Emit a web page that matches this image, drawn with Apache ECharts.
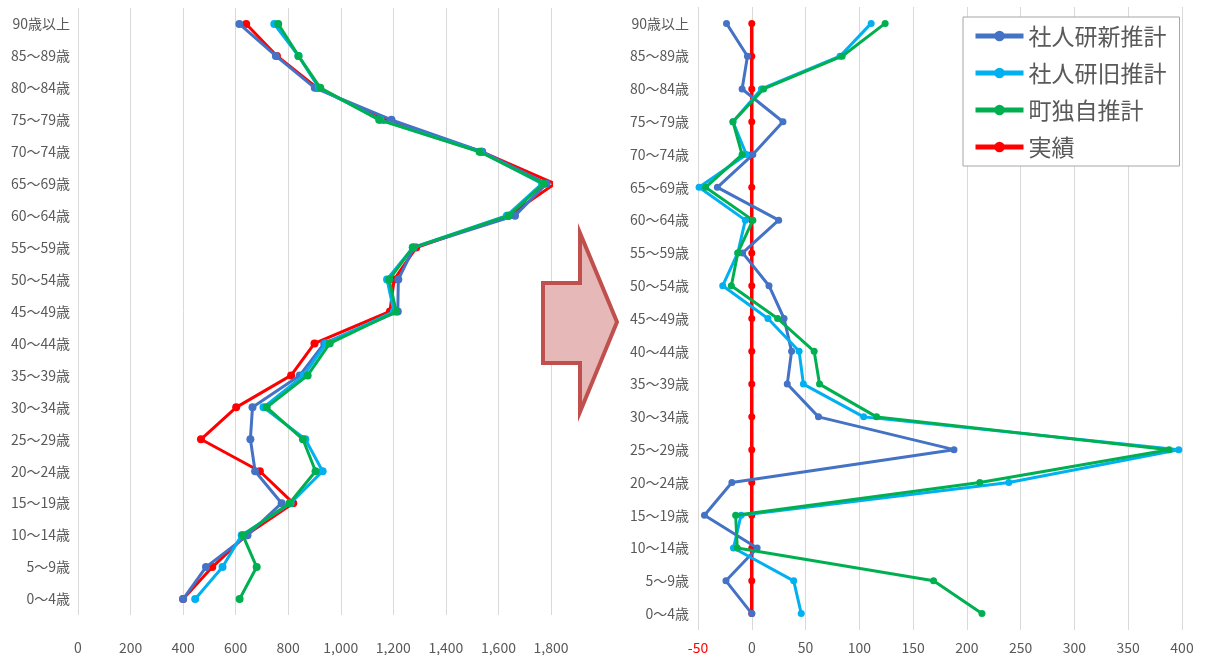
<!DOCTYPE html>
<html>
<head>
<meta charset="utf-8">
<script src="https://cdn.jsdelivr.net/npm/echarts@6/dist/echarts.min.js"></script>
<style>
    html, body { margin: 0; padding: 0; background: #fff; }
    #chart { width: 1210px; height: 655px; }
</style>
</head>
<body>
<div id="chart"></div>
<script>
    // 年齢階級（下から上へ）
    var categories = ['0～4歳', '5～9歳', '10～14歳', '15～19歳', '20～24歳', '25～29歳', '30～34歳',
        '35～39歳', '40～44歳', '45～49歳', '50～54歳', '55～59歳', '60～64歳', '65～69歳',
        '70～74歳', '75～79歳', '80～84歳', '85～89歳', '90歳以上']

    var seriesNames = ['社人研新推計', '社人研旧推計', '町独自推計', '実績']
    var colors = ['#4472C4', '#00B0F0', '#00B050', '#FF0000']

    // 左：人数
    var leftNew = [400, 487, 645, 775, 674, 656, 664, 844, 937, 1217, 1219, 1278, 1663, 1783, 1538, 1193, 901, 753, 614]
    var leftOld = [446, 550, 623, 809, 931, 865, 706, 859, 944, 1202, 1176, 1274, 1632, 1766, 1532, 1150, 917, 839, 747]
    var leftTown = [615, 680, 627, 805, 904, 856, 718, 874, 958, 1211, 1184, 1274, 1639, 1772, 1528, 1146, 922, 839, 762]
    var leftActual = [400, 511, 640, 819, 692, 468, 602, 811, 900, 1187, 1203, 1287, 1638, 1815, 1537, 1163, 910, 757, 640]

    // 右：実績との差
    var rightNew = [0, -24, 5, -44, -18.5, 188, 62, 33, 37, 30, 16, -8.5, 25, -32, 1, 29, -9, -4, -23.5]
    var rightOld = [46, 39, -17, -10, 239, 397, 104, 48, 44, 15, -27, -13, -6, -49, -5, -17.5, 9, 82, 111]
    var rightTown = [214, 169, -13.5, -15, 212, 388, 116, 63, 58, 24, -19, -13, 1, -43, -9, -17.5, 11, 84, 124]
    var rightActual = [0, 0, 0, 0, 0, 0, 0, 0, 0, 0, 0, 0, 0, 0, 0, 0, 0, 0, 0]

    var font = '"Noto Sans CJK JP", "Noto Sans", sans-serif'
    var chart = echarts.init(document.getElementById('chart'))

    function makeSeries (name, data, idx, color, width, size, z) {
        return {
            name: name,
            type: 'line',
            xAxisIndex: idx,
            yAxisIndex: idx,
            data: data,
            symbol: 'circle',
            symbolSize: size,
            z: z,
            itemStyle: { color: color },
            lineStyle: { color: color, width: width },
            emphasis: { disabled: true },
            animation: false
        }
    }

    var catAxis = function (idx, margin) {
        return {
            type: 'category',
            gridIndex: idx,
            data: categories,
            axisLine: { show: false },
            axisTick: { show: false },
            axisLabel: { color: '#595959', fontSize: 14, fontFamily: font, margin: margin }
        }
    }

    chart.setOption({
        backgroundColor: '#fff',
        textStyle: { fontFamily: font },
        grid: [
            { left: 78, top: 8, width: 473, height: 607, containLabel: false, outerBoundsMode: 'none' },
            { left: 698, top: 7, width: 484, height: 623, containLabel: false, outerBoundsMode: 'none' }
        ],
        legend: {
            orient: 'vertical',
            left: 963,
            top: 17,
            data: seriesNames,
            itemWidth: 48,
            itemHeight: 13,
            itemGap: 13,
            padding: [7, 13, 7, 10],
            backgroundColor: '#fff',
            borderColor: '#A6A6A6',
            borderWidth: 1,
            borderRadius: 0,
            lineStyle: { width: 5 },
            textStyle: { fontSize: 23, lineHeight: 24, color: '#595959', fontFamily: font }
        },
        xAxis: [
            {
                type: 'value', gridIndex: 0, min: 0, max: 1800, interval: 200,
                axisLine: { show: false },
                axisTick: { show: false },
                splitLine: { lineStyle: { color: '#D9D9D9', width: 1 } },
                axisLabel: {
                    color: '#595959', fontSize: 14, margin: 26, fontFamily: font,
                    formatter: function (v) { return v.toLocaleString('en-US') }
                }
            },
            {
                type: 'value', gridIndex: 1, min: -50, max: 400, interval: 50,
                axisLine: { show: false },
                axisTick: { show: false },
                splitLine: { lineStyle: { color: '#D9D9D9', width: 1 } },
                axisLabel: {
                    fontSize: 14, margin: 11, fontFamily: font,
                    color: function (v) { return Number(v) < 0 ? '#FF0000' : '#595959' },
                    formatter: function (v) { return String(v) }
                }
            }
        ],
        yAxis: [catAxis(0, 8), catAxis(1, 9)],
        graphic: [{
            type: 'polygon',
            z: 100,
            shape: {
                points: [[543, 283], [580, 283], [580, 233], [617, 322], [580, 412], [580, 363], [543, 363]]
            },
            style: { fill: '#E6B9B8', stroke: '#C0504D', lineWidth: 4, lineJoin: 'miter' }
        }],
        series: [
            makeSeries(seriesNames[3], leftActual, 0, colors[3], 3, 8, 1),
            makeSeries(seriesNames[0], leftNew, 0, colors[0], 3, 8, 2),
            makeSeries(seriesNames[1], leftOld, 0, colors[1], 3, 8, 3),
            makeSeries(seriesNames[2], leftTown, 0, colors[2], 3, 8, 4),
            makeSeries(seriesNames[3], rightActual, 1, colors[3], 3.5, 7, 1),
            makeSeries(seriesNames[0], rightNew, 1, colors[0], 3, 7, 2),
            makeSeries(seriesNames[1], rightOld, 1, colors[1], 3, 7, 3),
            makeSeries(seriesNames[2], rightTown, 1, colors[2], 3, 7, 4)
        ]
    })
</script>
</body>
</html>
